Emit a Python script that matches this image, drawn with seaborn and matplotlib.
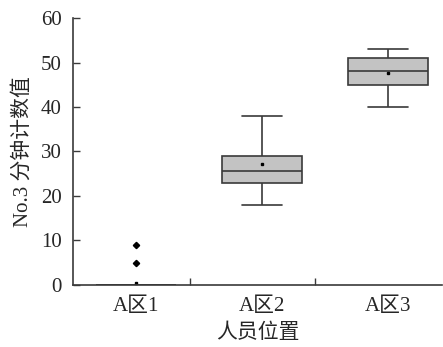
import pandas as pd
import matplotlib
matplotlib.use('Agg')
import matplotlib.pyplot as plt
import seaborn as sns

categories = ['A区1', 'A区2', 'A区3']
# estimated per-minute counts read off the box statistics
a1_values = [0] * 26 + [5, 9]
a2_values = [18, 22, 23, 25, 25.5, 28, 29, 36.3, 38]
a3_values = [40, 44, 45, 46.5, 48, 50, 51, 51.8, 53]
y_ticks = [0, 10, 20, 30, 40, 50, 60]

sns.set_theme(style='white')
plt.rcParams['font.family'] = ['Liberation Serif', 'Noto Sans CJK SC']
plt.rcParams['axes.unicode_minus'] = False

df = pd.DataFrame({
    'pos': [categories[0]] * len(a1_values) + [categories[1]] * len(a2_values) + [categories[2]] * len(a3_values),
    'val': a1_values + a2_values + a3_values,
})

fig = plt.figure(figsize=(4.43, 3.47), dpi=100)
ax = fig.add_axes([0.165, 0.179, 0.833, 0.769])

line_c = '#3a3a3a'
sns.boxplot(data=df, x='pos', y='val', order=categories, ax=ax, width=0.64,
            color='#c3c3c3', linecolor=line_c, linewidth=1.2, whis=1.5,
            showmeans=True,
            meanprops=dict(marker='s', markersize=1.8, markerfacecolor='black', markeredgecolor='black'),
            flierprops=dict(marker='D', markersize=3.2, markerfacecolor='black', markeredgecolor='black'))

ax.set_xlim(-0.5, 2.43)
ax.set_ylim(0, 60)
ax.set_yticks(y_ticks)
ax.set_xticks(range(len(categories)))
ax.set_xticklabels(categories)
ax.set_xticks([0.43, 1.42], minor=True)
ax.tick_params(axis='y', direction='in', length=5, width=1, color=line_c, labelsize=15, pad=8, left=True)
ax.tick_params(axis='x', which='major', length=0, labelsize=15, pad=9)
ax.tick_params(axis='x', which='minor', direction='in', length=5, width=1, color=line_c, bottom=True)

for s in ['top', 'right']:
    ax.spines[s].set_visible(False)
for s in ['left', 'bottom']:
    ax.spines[s].set_color(line_c)
    ax.spines[s].set_linewidth(1.2)

ax.set_ylabel('No.3 分钟计数值', fontsize=15, labelpad=6)
ax.set_xlabel('人员位置', fontsize=15, labelpad=5)

fig.savefig('out.png', dpi=100)
